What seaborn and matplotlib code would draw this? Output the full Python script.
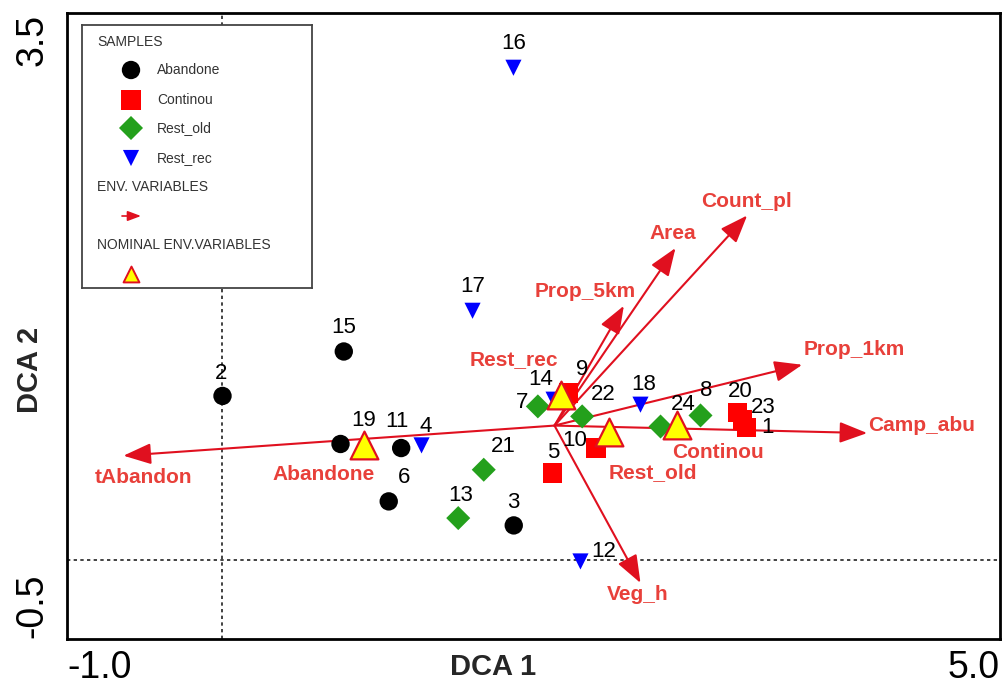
import numpy as np
import pandas as pd
import matplotlib
matplotlib.use("Agg")
import matplotlib.pyplot as plt
import seaborn as sns

# ---------------- data ----------------
sample_ids = [1, 2, 3, 4, 5, 6, 7, 8, 9, 10, 11, 12,
              13, 14, 15, 16, 17, 18, 19, 20, 21, 22, 23, 24]
sample_groups = ["Continou", "Abandone", "Abandone", "Rest_rec", "Continou", "Abandone",
                 "Rest_old", "Rest_old", "Continou", "Continou", "Abandone", "Rest_rec",
                 "Rest_old", "Rest_rec", "Abandone", "Rest_rec", "Rest_rec", "Rest_rec",
                 "Abandone", "Continou", "Rest_old", "Rest_old", "Continou", "Rest_old"]
sample_x = [3.37, 0.00, 1.873, 1.28, 2.124, 1.069, 2.028, 3.074, 2.225, 2.403, 1.149, 2.302,
            1.516, 2.129, 0.780, 1.871, 1.608, 2.688, 0.759, 3.310, 1.680, 2.313, 3.344, 2.817]
sample_y = [0.846, 1.05, 0.22, 0.733, 0.556, 0.374, 0.983, 0.925, 1.07, 0.716, 0.716, -0.011,
            0.267, 1.026, 1.335, 3.154, 1.596, 0.994, 0.742, 0.942, 0.577, 0.919, 0.897, 0.854]

env_names = ["tAbandon", "Camp_abu", "Prop_1km", "Count_pl", "Area", "Prop_5km", "Veg_h"]
env_x = [-0.637, 4.146, 3.728, 3.374, 2.913, 2.581, 2.688]
env_y = [0.667, 0.812, 1.250, 2.207, 1.998, 1.628, -0.149]
env_origin_x = 2.135
env_origin_y = 0.860

nominal_names = ["Abandone", "Rest_rec", "Rest_old", "Continou"]
nominal_x = [0.913, 2.174, 2.484, 2.924]
nominal_y = [0.737, 1.058, 0.822, 0.865]

group_order = ["Abandone", "Continou", "Rest_old", "Rest_rec"]
x_ticks = [-1, 0, 1, 2, 3, 4, 5]
x_tick_labels = ["-1.0", "", "", "", "", "", "5.0"]
y_ticks = [-0.5, 0.0, 0.5, 1.0, 1.5, 2.0, 2.5, 3.0, 3.5]
y_tick_labels = ["-0.5", "", "", "", "", "", "", "", "3.5"]

# ---------------- layout / style ----------------
W, H = 1003, 690
sns.set_theme(style="white")
plt.rcParams["font.family"] = ["Liberation Sans", "DejaVu Sans"]

palette = {"Abandone": "black", "Continou": "#ff0000", "Rest_old": "#24a01c", "Rest_rec": "#0000ff"}
markers = {"Abandone": "o", "Continou": "s", "Rest_old": "D", "Rest_rec": "v"}
sizes = {"Abandone": 175, "Continou": 195, "Rest_old": 150, "Rest_rec": 135}
arrow_col = "#e0101f"
text_red = "#e8403a"

# label offsets in pixels (dx right, dy down)
num_off = {1: (21, 0), 2: (-1, -22), 3: (0, -23), 4: (4, -19), 5: (0, -20), 6: (15, -24),
           7: (-16, -4), 8: (6, -25), 9: (14, -23), 10: (-21, -8), 11: (-4, -27), 12: (23, -10),
           13: (2, -23), 14: (-13, -20), 15: (0, -24), 16: (0, -24), 17: (0, -24), 18: (3, -20),
           19: (23, -23), 20: (3, -21), 21: (20, -23), 22: (21, -22), 23: (21, -12), 24: (23, -22)}
env_off = {"tAbandon": (20, 22, "center"), "Camp_abu": (1, -8, "left"), "Prop_1km": (1, -15, "left"),
           "Count_pl": (-1, -14, "center"), "Area": (-3, -15, "center"),
           "Prop_5km": (-39, -14, "center"), "Veg_h": (-3, 12, "center")}
nom_off = {"Abandone": (-41, 30), "Rest_rec": (-47, -35), "Rest_old": (44, 41), "Continou": (41, 28)}
PX = 72.0 / 100.0

fig = plt.figure(figsize=(W / 100, H / 100), dpi=100)
ax = fig.add_axes([67 / W, 1 - 638.5 / H, (1000 - 67) / W, (638.5 - 13) / H])
ax.set_xlim(-1.0, 5.0)
ax.set_ylim(-0.505, 3.505)

# zero reference lines
ax.axvline(0, color="#222222", lw=1.2, ls=(0, (2, 2)), zorder=1)
ax.axhline(0, color="#222222", lw=1.2, ls=(0, (2, 2)), zorder=1)

# environmental arrows
for name, ex, ey in zip(env_names, env_x, env_y):
    ax.annotate("", xy=(ex, ey), xytext=(env_origin_x, env_origin_y),
                arrowprops=dict(arrowstyle="-|>,head_length=1.0,head_width=0.38",
                                color=arrow_col, lw=1.5, shrinkA=0, shrinkB=0,
                                mutation_scale=17), zorder=2)
    dx, dy, ha = env_off[name]
    ax.annotate(name, (ex, ey), xytext=(dx * PX, -dy * PX), textcoords="offset points",
                ha=ha, va="center", fontsize=15, fontweight="bold", color=text_red, zorder=6)

# samples
df = pd.DataFrame({"id": sample_ids, "group": sample_groups, "x": sample_x, "y": sample_y})
sns.scatterplot(data=df, x="x", y="y", hue="group", style="group", size="group",
                hue_order=group_order, style_order=group_order, size_order=group_order,
                palette=palette, markers=markers, sizes=sizes, linewidth=0,
                legend=False, ax=ax, zorder=3)
for sid, sx, sy in zip(sample_ids, sample_x, sample_y):
    dx, dy = num_off[sid]
    ax.annotate(str(sid), (sx, sy), xytext=(dx * PX, -dy * PX), textcoords="offset points",
                ha="center", va="center", fontsize=16, color="black", zorder=5)

# nominal variables
ndf = pd.DataFrame({"name": nominal_names, "x": nominal_x, "y": nominal_y})
sns.scatterplot(data=ndf, x="x", y="y", marker="^", s=400, color="#ffff00",
                edgecolor=arrow_col, linewidth=1.6, legend=False, ax=ax, zorder=4)
for name, nx, ny in zip(nominal_names, nominal_x, nominal_y):
    dx, dy = nom_off[name]
    ax.annotate(name, (nx, ny), xytext=(dx * PX, -dy * PX), textcoords="offset points",
                ha="center", va="center", fontsize=15, fontweight="bold", color=text_red, zorder=6)

# axes styling
for side in ["left", "bottom", "top", "right"]:
    ax.spines[side].set_visible(True)
    ax.spines[side].set_color("black")
    ax.spines[side].set_linewidth(2.0)
ax.set_xticks(x_ticks)
ax.set_xticklabels(x_tick_labels)
ax.set_yticks(y_ticks)
ax.set_yticklabels(y_tick_labels, rotation=90)
ax.tick_params(axis="both", which="major", direction="inout", length=8, width=1.8,
               color="black", labelsize=27, labelcolor="black")
ax.tick_params(axis="x", pad=4)
ax.tick_params(axis="y", pad=8)
xl = ax.get_xticklabels()
xl[0].set_ha("left")
xl[-1].set_ha("right")
yl = ax.get_yticklabels()
yl[0].set_va("bottom")
yl[-1].set_va("top")
ax.set_xlabel("")
ax.set_ylabel("")
fig.text(493 / W, 1 - 667 / H, "DCA 1", ha="center", va="center", fontsize=21, fontweight="bold")
fig.text(30 / W, 1 - 370 / H, "DCA 2", ha="center", va="center", fontsize=21,
         fontweight="bold", rotation=90)

# custom legend box
lg = fig.add_axes([82 / W, 1 - 288 / H, 230 / W, 263 / H])
lg.set_xlim(0, 230)
lg.set_ylim(263, 0)
lg.set_xticks([])
lg.set_yticks([])
lg.set_facecolor("white")
for s in lg.spines.values():
    s.set_visible(True)
    s.set_color("#444444")
    s.set_linewidth(1.3)
leg_txt = "#333333"
lg.text(15, 16.7, "SAMPLES", ha="left", va="center", fontsize=10, color=leg_txt)
leg_y = [45, 75, 103, 133]
leg_df = pd.DataFrame({"group": group_order, "x": [49] * 4, "y": leg_y})
sns.scatterplot(data=leg_df, x="x", y="y", hue="group", style="group", size="group",
                hue_order=group_order, style_order=group_order, size_order=group_order,
                palette=palette, markers=markers, sizes=sizes, linewidth=0, legend=False, ax=lg)
for g, yy in zip(group_order, leg_y):
    lg.text(75, yy, g, ha="left", va="center", fontsize=10, color=leg_txt)
lg.text(15, 161.7, "ENV. VARIABLES", ha="left", va="center", fontsize=10, color=leg_txt)
lg.annotate("", xy=(59, 191), xytext=(40, 191),
            arrowprops=dict(arrowstyle="-|>,head_length=0.8,head_width=0.3", color=arrow_col,
                            lw=1.2, shrinkA=0, shrinkB=0, mutation_scale=10))
lg.text(15, 220, "NOMINAL ENV.VARIABLES", ha="left", va="center", fontsize=10, color=leg_txt)
lg.scatter([49], [249], marker="^", s=130, color="#ffff00", edgecolor=arrow_col, linewidth=1.4)
lg.set_xlabel("")
lg.set_ylabel("")

fig.savefig("out.png", dpi=100)
